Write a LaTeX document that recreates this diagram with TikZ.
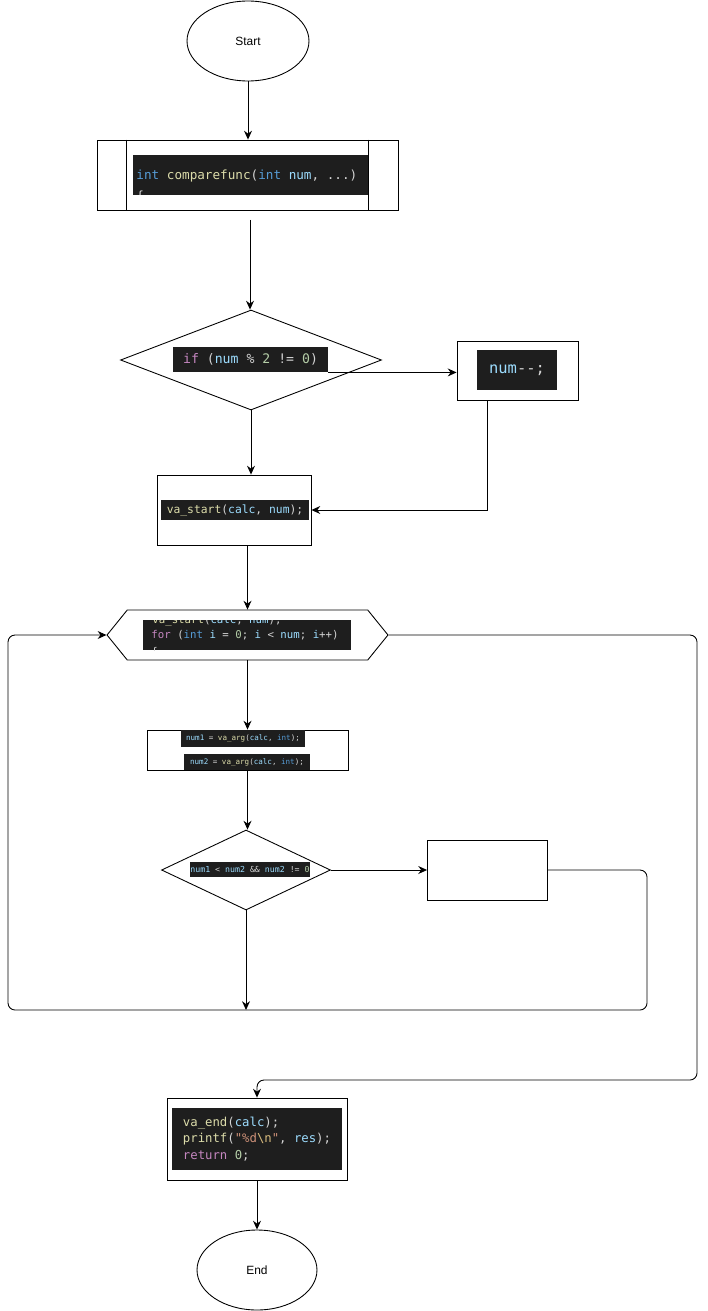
\documentclass[tikz,border=0pt]{standalone}
\usepackage{fontspec}
\usepackage{xcolor}
\usepackage{tikz}
\usetikzlibrary{arrows.meta, positioning, shapes.geometric, shapes.symbols, calc}
\setmainfont{Liberation Sans}
\newfontfamily\codefont{DejaVu Sans Mono}
\definecolor{codebg}{HTML}{1E1E1E}
\definecolor{codetxt}{HTML}{D4D4D4}
\definecolor{vsblue}{HTML}{569CD6}
\definecolor{vsyellow}{HTML}{DCDCAA}
\definecolor{vsvar}{HTML}{9CDCFE}
\definecolor{vsnum}{HTML}{B5CEA8}
\definecolor{vspurple}{HTML}{C586C0}
\definecolor{vsstr}{HTML}{CE9178}
\definecolor{vsesc}{HTML}{D7BA7D}
\newcommand{\ckw}[1]{\textcolor{vsblue}{#1}}
\newcommand{\cfn}[1]{\textcolor{vsyellow}{#1}}
\newcommand{\cvr}[1]{\textcolor{vsvar}{#1}}
\newcommand{\cnm}[1]{\textcolor{vsnum}{#1}}
\newcommand{\cctl}[1]{\textcolor{vspurple}{#1}}
\newcommand{\cstr}[1]{\textcolor{vsstr}{#1}}
\newcommand{\cesc}[1]{\textcolor{vsesc}{#1}}

\begin{document}
\begin{tikzpicture}[x=0.02cm, y=-0.02cm, line width=0.5pt,
  term/.style={ellipse, draw, minimum height=1.6cm, font=\fontsize{6.8}{8}\selectfont},
  box/.style={rectangle, draw, inner sep=0pt},
  cond/.style={diamond, draw, inner sep=0pt},
  code/.style={fill=codebg, inner sep=0pt, text=codetxt},
  codeline/.style={inner sep=0pt, text=codetxt},
  codefs/.style={font=\codefont\fontsize{#1}{#1}\selectfont},
  arr/.style={-{Stealth[length=5pt, width=4.5pt]}},
  back/.style={arr, rounded corners=4pt}]
  \useasboundingbox (0,0) rectangle (707,1311);

  % Start
  \node[term, minimum width=2.44cm] (start) at (248,41) {Start};

  % Funkce
  \node[box, minimum width=6.02cm, minimum height=1.4cm] (head) at (247.5,175) {};
  \draw ([xshift=0.6cm]head.north west) -- ([xshift=0.6cm]head.south west);
  \draw ([xshift=-0.6cm]head.north east) -- ([xshift=-0.6cm]head.south east);
  \begin{scope}
    \clip (133,155) rectangle (368,195);
    \node[code, minimum width=4.7cm, minimum height=0.8cm] (headcode) at (250.5,175) {};
    \node[codeline, codefs=7.2, anchor=west] (headline) at (136,176)
      {\ckw{int} \cfn{comparefunc}(\ckw{int} \cvr{num}, ...)};
    \node[codeline, codefs=7.2, anchor=west] (headbrace) at (136,197) {\{};
  \end{scope}

  % Podminka lichosti
  \node[cond, minimum width=5.22cm, minimum height=2cm] (odd) at (251,360) {};
  \node[code, codefs=7.5, minimum width=3.1cm, minimum height=0.5cm] (oddcode) at (250.5,359.5)
    {\cctl{if} (\cvr{num} \% \cnm{2} != \cnm{0})};
  \node[box, minimum width=2.42cm, minimum height=1.18cm] (dec) at (517.5,370.5) {};
  \node[code, codefs=8.8, minimum width=1.6cm, minimum height=0.8cm] (deccode) at (517,370)
    {\cvr{num}-{}-;};

  \node[box, minimum width=3.08cm, minimum height=1.4cm] (vastart) at (234,510) {};
  \node[code, codefs=6.45, minimum width=2.96cm, minimum height=0.4cm] (vastartcode) at (235,510)
    {\cfn{va\_start}(\cvr{calc}, \cvr{num});};

  % Cyklus
  \node[signal, signal to=west and east, signal pointer angle=102, draw, inner sep=0pt,
    minimum width=5.62cm, minimum height=1cm] (loop) at (247.5,635) {};
  \begin{scope}
    \clip (143,620) rectangle (351,650);
    \node[code, minimum width=4.16cm, minimum height=0.6cm] (loopcode) at (247,635) {};
    \node[codeline, codefs=6.1, anchor=west] (loopprev) at (152,620.5)
      {\cfn{va\_start}(\cvr{calc}, \cvr{num});};
    \node[codeline, codefs=6.1, anchor=west] (loopline) at (151,635)
      {\cctl{for} (\ckw{int} \cvr{i} = \cnm{0}; \cvr{i} < \cvr{num}; \cvr{i}++)};
    \node[codeline, codefs=6.1, anchor=west] (loopbrace) at (151,652) {\{};
  \end{scope}

  \node[box, minimum width=4.02cm, minimum height=0.8cm] (args) at (247.5,750) {};
  \node[code, codefs=4.3, minimum width=2.48cm, minimum height=0.34cm] (argone) at (243,738.5)
    {\cvr{num1} = \cfn{va\_arg}(\cvr{calc}, \ckw{int});};
  \node[code, codefs=4.3, minimum width=2.52cm, minimum height=0.32cm] (argtwo) at (247,762)
    {\cvr{num2} = \cfn{va\_arg}(\cvr{calc}, \ckw{int});};

  \node[cond, minimum width=3.38cm, minimum height=1.6cm] (cmp) at (246,870) {};
  \node[code, codefs=4.7, minimum width=2.4cm, minimum height=0.3cm] (cmpcode) at (250,869.5)
    {\cvr{num1} < \cvr{num2} \&\& \cvr{num2} != \cnm{0}};
  \node[box, minimum width=2.4cm, minimum height=1.2cm] (empty) at (487.5,870) {};

  % Konec
  \node[box, minimum width=3.6cm, minimum height=1.64cm] (tail) at (257,1139) {};
  \node[code, codefs=7, align=left, minimum width=3.4cm, minimum height=1.24cm] (tailcode) at (257,1139)
    {\cfn{va\_end}(\cvr{calc});\\[2.2pt]
     \cfn{printf}(\cstr{"\%d}\cesc{\textbackslash n}\cstr{"}, \cvr{res});\\[2.2pt]
     \cctl{return} \cnm{0};};
  \node[term, minimum width=2.4cm] (stop) at (257,1270) {End};

  % Spoje
  \coordinate (gap) at (250,220);
  \coordinate (backL) at (8,1010);
  \coordinate (backR) at (647,1010);
  \coordinate (exitR) at (697,1080);
  \draw[arr] (start) -- (start |- head.north);
  \draw[arr] (gap) -- (gap |- odd.north);
  \draw[arr, line width=0.9pt] (oddcode.south east) -- (oddcode.south east -| dec.west);
  \draw[arr] ([xshift=0.62cm]dec.south west) |- (vastart.east);
  \draw[arr] (odd.south) -- (odd.south |- vastart.north);
  \draw[arr] (loop.north |- vastart.south) -- (loop.north);
  \draw[arr] (loop.south) -- (loop.south |- args.north);
  \draw[arr] (args.south) -- (args.south |- cmp.north);
  \draw[arr] (cmp.east) -- (empty.west);
  \draw[arr] (cmp.south) -- (cmp.south |- backR);
  \draw[back] (empty.east) -| (backR) -- (backL) |- (loop.west);
  \draw[back] (loop.east) -| (exitR) -| (tail.north);
  \draw[arr] (tail.south) -- (tail.south |- stop.north);
\end{tikzpicture}
\end{document}
